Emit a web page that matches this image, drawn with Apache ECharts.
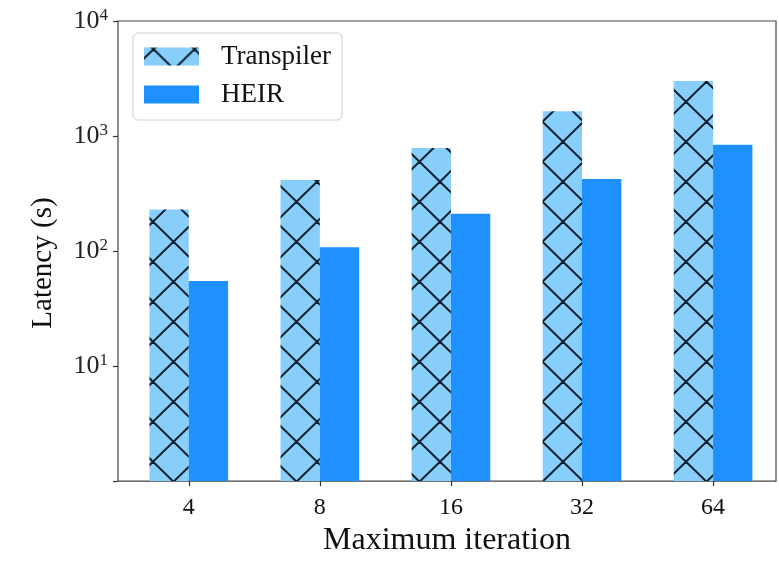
<!DOCTYPE html>
<html><head><meta charset="utf-8">
<script src="https://cdn.jsdelivr.net/npm/echarts@6/dist/echarts.min.js"></script>
<style>html,body{margin:0;padding:0;background:#fff}#c{width:779px;height:562px}</style>
</head><body><div id="c"></div>
<script>
const categories = ['4', '8', '16', '32', '64'];
const transpiler = [230, 415, 785, 1645, 3015];
const heir = [55, 108, 211, 424, 838];
const seriesNames = ['Transpiler', 'HEIR'];
const yTickValues = [10, 100, 1000, 10000];
const FONT = 'Liberation Serif';

function hatchCanvas() {
  const W = 41, H = 40;
  const c = document.createElement('canvas');
  c.width = W; c.height = H;
  const g = c.getContext('2d');
  g.fillStyle = '#87CEFA';
  g.fillRect(0, 0, W, H);
  g.strokeStyle = '#0f1f2e';
  g.lineWidth = 2;
  const ox = 30, oy = 21.7;
  g.beginPath();
  for (let i = -2; i <= 1; i++) {
    for (let j = -2; j <= 1; j++) {
      const x = ox + i * W, y = oy + j * H;
      g.moveTo(x, y); g.lineTo(x + W, y + H);
      g.moveTo(x + W, y); g.lineTo(x, y + H);
    }
  }
  g.stroke();
  return c;
}

const chart = echarts.init(document.getElementById('c'), null, {renderer: 'canvas'});
const tickIdx = categories.map((c, i) => i);
chart.setOption({
  animation: false,
  backgroundColor: '#fff',
  grid: {left: 118, right: 3, top: 21, bottom: 75, show: true, borderColor: '#444', borderWidth: 1.2},
  legend: {
    data: seriesNames,
    orient: 'vertical', left: 133, top: 33,
    itemWidth: 55, itemHeight: 18, itemGap: 11, icon: 'rect',
    padding: [10, 11, 12, 11],
    borderColor: '#d0d0d0', borderWidth: 1, borderRadius: 5, backgroundColor: '#fff',
    textStyle: {fontSize: 27, fontFamily: FONT, color: '#111', padding: [0, 0, 0, 17]}
  },
  xAxis: {
    type: 'value', min: -0.54, max: 4.48,
    axisLine: {show: false, onZero: false},
    splitLine: {show: false},
    axisTick: {show: true, customValues: tickIdx, length: 5, lineStyle: {color: '#333', width: 1.2}},
    axisLabel: {customValues: tickIdx, formatter: v => categories[Math.round(v)], fontSize: 24, fontFamily: FONT, color: '#111', margin: 15},
    name: 'Maximum iteration', nameLocation: 'middle', nameGap: 36,
    nameTextStyle: {fontSize: 32, fontFamily: FONT, color: '#111'}
  },
  yAxis: {
    type: 'log', logBase: 10, min: 1, max: 10000,
    axisLine: {show: false, onZero: false},
    splitLine: {show: false},
    axisTick: {show: true, length: 5, lineStyle: {color: '#333', width: 1.2}},
    axisLabel: {
      formatter: v => yTickValues.indexOf(Math.round(v)) < 0 ? '' : '{b|10}{s|' + Math.round(Math.log10(v)) + '}',
      margin: 10,
      rich: {
        b: {fontSize: 26, fontFamily: FONT, color: '#222', lineHeight: 28},
        s: {fontSize: 17, fontFamily: FONT, color: '#222', lineHeight: 18, verticalAlign: 'top'}
      }
    },
    name: 'Latency (s)', nameLocation: 'middle', nameGap: 60,
    nameTextStyle: {fontSize: 29, fontFamily: FONT, color: '#111', padding: [0, 24, 0, 0]}
  },
  series: [
    {type: 'bar', name: seriesNames[0], data: categories.map((c, i) => [i, transpiler[i]]),
     barWidth: '30%', barGap: '0%', itemStyle: {color: {image: hatchCanvas(), repeat: 'repeat'}}},
    {type: 'bar', name: seriesNames[1], data: categories.map((c, i) => [i, heir[i]]),
     barWidth: '30%', barGap: '0%', itemStyle: {color: '#1E90FF'}}
  ]
});
</script></body></html>
